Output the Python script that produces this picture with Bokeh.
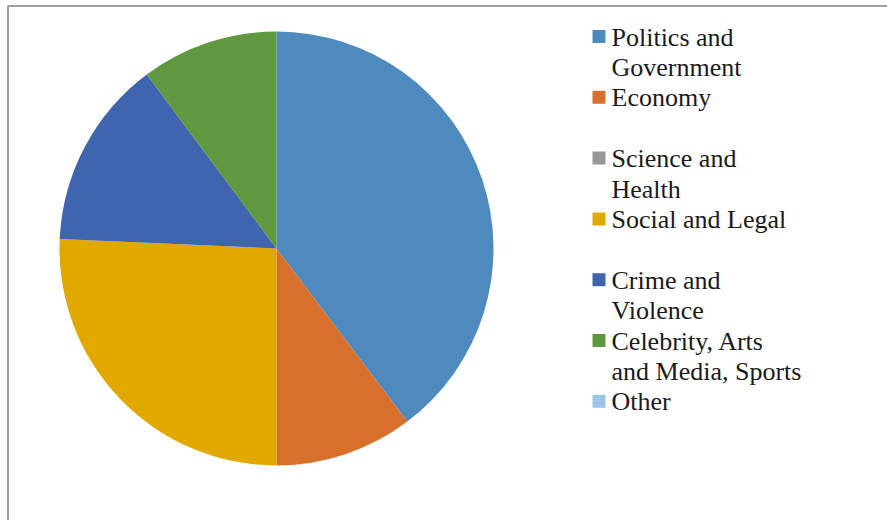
import math
from bokeh.plotting import figure
from bokeh.models import Range1d, ColumnDataSource
from bokeh.core.properties import value
from bokeh.embed import file_html
from bokeh.resources import INLINE

# ---- data ----
categories = ["Politics and\nGovernment", "Economy", "Science and\nHealth",
              "Social and Legal", "Crime and\nViolence",
              "Celebrity, Arts\nand Media, Sports", "Other"]
shares = [39.7, 10.3, 0.0, 25.7, 14.1, 10.2, 0.0]
colors = ["#4F8ABE", "#D7702C", "#989898", "#E1A800", "#3E65AE", "#5F983E", "#9DC3E6"]

W, H = 887, 520
p = figure(width=W, height=H, output_backend="svg", toolbar_location=None,
           x_range=Range1d(0, W), y_range=Range1d(0, H),
           min_border=0, min_border_left=0, min_border_right=0,
           min_border_top=0, min_border_bottom=0)
p.axis.visible = False
p.grid.visible = False
p.outline_line_color = None
p.background_fill_color = "white"
p.border_fill_color = "white"

# border (top and left edges of the chart area)
p.line([7.5, 7.5, W], [0, H - 5.5, H - 5.5], line_color="#a0a0a0", line_width=2)

# pie (zero-size slices are not drawn)
total = sum(shares)
cx, cy, r = 276, H - 248, 217
starts, ends, wcol = [], [], []
acc = 0.0
for s, c in zip(shares, colors):
    a0 = math.pi / 2 - 2 * math.pi * acc / total
    acc += s
    a1 = math.pi / 2 - 2 * math.pi * acc / total
    if s > 0:
        starts.append(a0)
        ends.append(a1)
        wcol.append(c)
src = ColumnDataSource(dict(start=starts, end=ends, color=wcol))
p.wedge(x=cx, y=cy, radius=r, start_angle="start", end_angle="end",
        direction="clock", fill_color="color", line_color=None, source=src)

# legend
step = 60.8
ys = [H - (36 + i * step) for i in range(len(categories))]
lsrc = ColumnDataSource(dict(x=[598.5] * len(categories), y=ys,
                             tx=[611] * len(categories), ty=[y + 14 for y in ys],
                             label=categories, color=colors))
p.scatter(x="x", y="y", marker="square", size=13, fill_color="color",
          line_color=None, source=lsrc)
p.text(x="tx", y="ty", text="label", text_font=value("Liberation Serif"),
       text_font_size="26px", text_baseline="top", text_color="#1a1a1a",
       text_line_height=1.05, source=lsrc)

open("out.html", "w").write(file_html(p, INLINE))
